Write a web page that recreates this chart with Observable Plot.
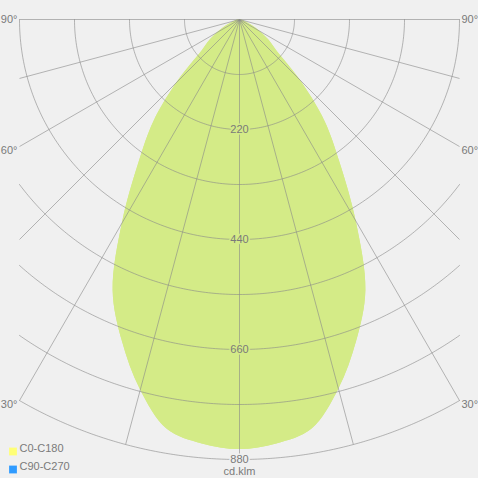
<!DOCTYPE html>
<html><head><meta charset="utf-8">
<script src="https://cdn.jsdelivr.net/npm/d3@7"></script>
<script src="https://cdn.jsdelivr.net/npm/@observablehq/plot@0.6"></script>
<style>
html,body{margin:0;padding:0;background:#f0f0f0;}
</style>
</head><body><div id="chart"></div>
<script>
// Gamma angles (degrees from nadir) and luminous intensity (cd/klm)
const gammas  = [0, 5, 10, 15, 20, 25, 30, 35, 40, 45, 50, 55, 60, 65, 70, 75, 80, 85, 90];
const c0c180  = [860, 852, 832, 766, 685, 598, 467, 351, 266, 172, 97, 71, 46, 26, 10, 2, 0, 0, 0];
const c90c270 = [860, 852, 832, 766, 685, 598, 467, 351, 266, 172, 97, 71, 46, 26, 10, 2, 0, 0, 0];
const ringValues  = [110, 220, 330, 440, 550, 660, 770, 880];
const ringLabels  = [220, 440, 660, 880];
const spokeAngles = [-90, -75, -60, -45, -30, -15, 0, 15, 30, 45, 60, 75, 90];
const angleLabels = [30, 60, 90];
const legendItems  = ["C0-C180", "C90-C270"];
const legendColors = ["#ffff77", "#2f9bff"];
const unitLabel = "cd.klm";

const BG = "#f0f0f0", GREEN = "#d4eb87", GRID = "#888", TXT = "#7a7a7a";
const R_MAX = 880, X_LIM = 440;
const rad = d => d * Math.PI / 180;

function curvePoints(series, values) {
  const pts = [];
  for (let i = gammas.length - 1; i >= 0; i--) pts.push({series, g: -gammas[i], I: values[i]});
  for (let i = 1; i < gammas.length; i++) pts.push({series, g: gammas[i], I: values[i]});
  return pts.map(p => ({...p, x: p.I * Math.sin(rad(p.g)), y: -p.I * Math.cos(rad(p.g))}));
}
const fillPts = [...curvePoints("C90-C270", c90c270), ...curvePoints("C0-C180", c0c180)];
const maxI = Math.max(...c0c180, ...c90c270);

const ringPts = [];
for (const r of ringValues) {
  const tmax = r > X_LIM ? Math.asin(X_LIM / r) : Math.PI / 2;
  const n = 180;
  for (let k = 0; k <= n; k++) {
    const t = -tmax + 2 * tmax * k / n;
    ringPts.push({r, x: r * Math.sin(t), y: -r * Math.cos(t)});
  }
}
const spokes = spokeAngles.map(a => {
  const s = Math.abs(Math.sin(rad(a)));
  const len = s > 0 ? Math.min(R_MAX, X_LIM / s) : R_MAX;
  return {a, x: len * Math.sin(rad(a)), y: -len * Math.cos(rad(a))};
});
const angLab = spokes.filter(d => angleLabels.includes(Math.abs(d.a)));

const font = "'Liberation Sans', Arial, Helvetica, sans-serif";
const angleMark = (data, left, dy) => Plot.text(data, {x: "x", y: "y", text: d => Math.abs(d.a) + "°",
  fill: TXT, fontSize: 11, textAnchor: left ? "end" : "start", dx: left ? -2 : 2, dy});

const plot = Plot.plot({
  width: 478, height: 478, margin: 0,
  x: {domain: [-478, 478], axis: null},
  y: {domain: [-918, 38], axis: null},
  color: {type: "identity"},
  style: {background: BG, fontFamily: font},
  marks: [
    Plot.area(fillPts, {x1: "x", y1: "y", x2: 0, y2: 0, z: "series", fill: GREEN, curve: "catmull-rom"}),
    Plot.line(ringPts, {x: "x", y: "y", z: "r", stroke: GRID, strokeOpacity: 0.6, strokeWidth: 1}),
    Plot.link(spokes, {x1: 0, y1: 0, x2: "x", y2: "y", stroke: GRID, strokeOpacity: 0.6, strokeWidth: 1}),
    Plot.text(ringLabels, {x: 0, y: d => -d, text: d => String(d), fill: TXT, fontSize: 11,
      stroke: d => d < maxI ? GREEN : BG, strokeWidth: 3}),
    angleMark(angLab.filter(d => d.a < 0 && Math.abs(d.a) === 90), true, 0),
    angleMark(angLab.filter(d => d.a > 0 && Math.abs(d.a) === 90), false, 0),
    angleMark(angLab.filter(d => d.a < 0 && Math.abs(d.a) !== 90), true, 4),
    angleMark(angLab.filter(d => d.a > 0 && Math.abs(d.a) !== 90), false, 4),
    ...legendItems.map((name, i) => Plot.dot([name], {frameAnchor: "bottom-left", dx: 12.5, dy: -27 + 18 * i,
      symbol: "square", r: 4.4, fill: legendColors[i], stroke: null})),
    ...legendItems.map((name, i) => Plot.text([name], {frameAnchor: "bottom-left", dx: 19, dy: -27 + 18 * i,
      text: d => d, textAnchor: "start", fill: TXT, fontSize: 11})),
    Plot.text([unitLabel], {frameAnchor: "bottom", dy: -4, text: d => d, fill: TXT, fontSize: 11})
  ]
});
document.getElementById("chart").appendChild(plot);
</script>
</body></html>
